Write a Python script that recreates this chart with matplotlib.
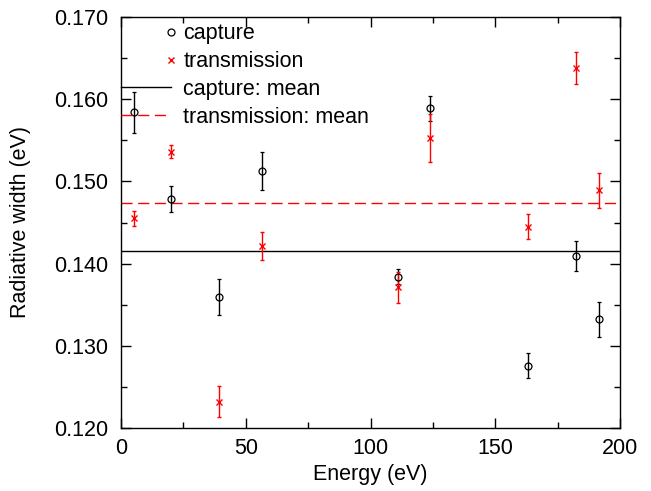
import matplotlib
matplotlib.use("Agg")
import matplotlib.pyplot as plt
from matplotlib.ticker import MultipleLocator, FormatStrFormatter
from matplotlib.lines import Line2D
from matplotlib.legend_handler import HandlerLine2DCompound
import numpy as np

plt.rcParams['font.family'] = ['Liberation Sans', 'DejaVu Sans']

energy = [5.2, 20.0, 39.4, 56.5, 111.0, 123.7, 163.2, 182.2, 191.7]
capture = [0.1584, 0.1479, 0.1359, 0.1513, 0.1384, 0.1589, 0.1276, 0.1409, 0.1332]
capture_err = [0.0025, 0.0016, 0.0022, 0.0023, 0.0009, 0.0015, 0.0015, 0.0018, 0.0021]
transmission = [0.1455, 0.1536, 0.1232, 0.1421, 0.1371, 0.1553, 0.1445, 0.1638, 0.1489]
transmission_err = [0.0009, 0.0008, 0.0019, 0.0017, 0.0019, 0.0029, 0.0015, 0.0019, 0.0021]
capture_mean = 0.14154
transmission_mean = 0.14737

FS = 15.5


class RightMarkerHandler(HandlerLine2DCompound):
    def get_xdata(self, legend, xdescent, ydescent, width, height, fontsize):
        xdata = np.array([-xdescent, -xdescent + width])
        xmark = np.array([-xdescent + width])
        return xdata, xmark


fig = plt.figure(figsize=(6.51, 4.91), dpi=100)
ax = fig.add_axes([121/651, 1 - 428/491, (620-121)/651, (428-17)/491])

ax.axhline(capture_mean, color='black', lw=1.0, zorder=1)
ax.axhline(transmission_mean, color='red', lw=1.0, dashes=(8, 4), zorder=1)

ax.errorbar(energy, capture, yerr=capture_err, fmt='o', mfc='none', mec='black',
            ms=5, mew=0.9, ecolor='black', elinewidth=1.0, capsize=1.5, capthick=1.0, zorder=3)
ax.errorbar(energy, transmission, yerr=transmission_err, fmt='x', color='red',
            ms=4, mew=1.0, ecolor='red', elinewidth=1.0, capsize=1.5, capthick=1.0, zorder=3)

ax.set_xlim(0, 200)
ax.set_ylim(0.120, 0.170)
ax.xaxis.set_major_locator(MultipleLocator(50))
ax.xaxis.set_minor_locator(MultipleLocator(25))
ax.yaxis.set_major_locator(MultipleLocator(0.01))
ax.yaxis.set_minor_locator(MultipleLocator(0.005))
ax.yaxis.set_major_formatter(FormatStrFormatter('%.3f'))
ax.tick_params(which='both', direction='in', top=True, right=True, labelsize=FS)
ax.tick_params(axis='x', pad=7)
ax.tick_params(axis='y', pad=9)
ax.tick_params(which='major', length=7, width=1)
ax.tick_params(which='minor', length=4, width=1)
for s in ax.spines.values():
    s.set_linewidth(1.0)

ax.set_xlabel('Energy (eV)', fontsize=FS, labelpad=4)
ax.set_ylabel('Radiative width (eV)', fontsize=FS, labelpad=17)

handles = [
    Line2D([], [], ls='none', marker='o', mfc='none', mec='black', ms=5, mew=0.9),
    Line2D([], [], ls='none', marker='x', color='red', ms=4, mew=1.0),
    Line2D([], [], color='black', lw=1.0),
    Line2D([], [], color='red', lw=1.0, dashes=(8, 4)),
]
labels = ['capture', 'transmission', 'capture: mean', 'transmission: mean']
leg = ax.legend(handles, labels, loc='upper left', bbox_to_anchor=(0.0, 0.985),
                frameon=False, fontsize=FS, handlelength=2.3, handletextpad=0.6,
                borderpad=0.0, borderaxespad=0.0, labelspacing=0.32,
                handler_map={handles[0]: RightMarkerHandler(numpoints=1),
                             handles[1]: RightMarkerHandler(numpoints=1)})

fig.savefig('out.png', dpi=100)
